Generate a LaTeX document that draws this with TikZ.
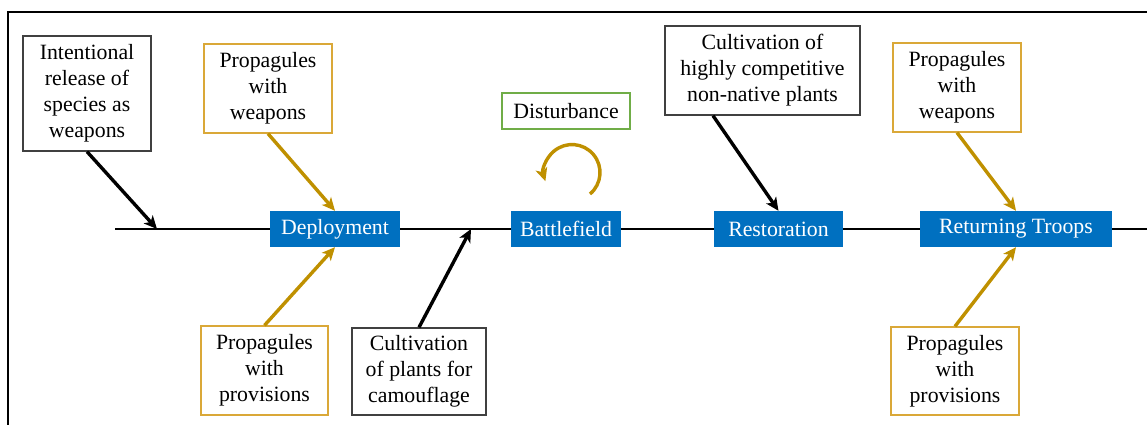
\documentclass[tikz,border=0pt]{standalone}
\usepackage{fontspec}
\setmainfont{Liberation Serif}
\usepackage{tikz}
\usetikzlibrary{arrows.meta}
\definecolor{stageblue}{RGB}{0,112,192}
\definecolor{arrowgold}{RGB}{191,144,0}
\definecolor{boxgold}{RGB}{218,168,56}
\definecolor{boxgreen}{RGB}{112,173,71}

\begin{document}
\begin{tikzpicture}[x=1pt, y=-1pt,
    font=\fontsize{21.8}{26}\selectfont,
    cause/.style={draw=black!75, line width=1.3pt, align=center, inner sep=0pt},
    prop/.style={draw=boxgold, line width=1.3pt, align=center, inner sep=0pt},
    dist/.style={draw=boxgreen, line width=1.3pt, align=center, inner sep=0pt},
    stage/.style={fill=stageblue, text=white, inner sep=0pt, minimum height=36pt},
    barrow/.style={line width=3.4pt, -{Stealth[length=13pt,width=12pt,inset=3.5pt]}},
    garrow/.style={barrow, draw=arrowgold}]
    \useasboundingbox (0,0) rectangle (1147,425);
    % frame
    \draw[line width=1.5pt] (8,430) -- (8,12) -- (1150,12);

    % stages on the spine
    \node[stage, minimum width=130pt] (dep) at (335,229) {Deployment};
    \node[stage, minimum width=110pt] (bat) at (566,229) {Battlefield};
    \node[stage, minimum width=129pt] (res) at (778.5,229) {Restoration};
    \node[stage, minimum width=192pt] (ret) at (1016,229) {Returning Troops};
    \coordinate (tail) at (115,229);
    \coordinate (end) at (1150,229);
    \coordinate (hit1) at (157,229);
    \coordinate (hit2) at (471,229);
    \draw[line width=2.2pt] (tail) -- (dep) -- (bat) -- (res) -- (ret) -- (end);

    % causes
    \node[cause, minimum width=128pt, minimum height=115pt] (release) at (87,93.5)
        {Intentional\\release of\\species as\\weapons};
    \node[prop, minimum width=128pt, minimum height=89pt] (wpn1) at (268,88.5)
        {Propagules\\with\\weapons};
    \node[prop, minimum width=127pt, minimum height=89pt] (prov1) at (264.5,370.5)
        {Propagules\\with\\provisions};
    \node[cause, minimum width=134pt, minimum height=87pt] (camo) at (419,371.5)
        {Cultivation\\of plants for\\camouflage};
    \node[dist, minimum width=128pt, minimum height=36pt] (dist) at (566,111)
        {Disturbance};
    \node[cause, minimum width=195pt, minimum height=89pt] (cult) at (762.5,70.5)
        {Cultivation of\\highly competitive\\non-native plants};
    \node[prop, minimum width=128pt, minimum height=89pt] (wpn2) at (957,87.5)
        {Propagules\\with\\weapons};
    \node[prop, minimum width=128pt, minimum height=88pt] (prov2) at (955,371)
        {Propagules\\with\\provisions};

    % arrows
    \draw[barrow] (release.south) -- (hit1);
    \draw[garrow] (wpn1.south) -- (dep.north);
    \draw[garrow] (prov1.north) -- (dep.south);
    \draw[barrow] (camo.north) -- (hit2);
    \draw[barrow] (cult.south -| 713,0) -- (res.north);
    \draw[garrow] (wpn2.south) -- (ret.north);
    \draw[garrow] (prov2.north) -- (ret.south);
    \coordinate (loop) at (590,194);
    \draw[garrow] (loop) arc[start angle=50, end angle=-198, radius=28];
\end{tikzpicture}
\end{document}
